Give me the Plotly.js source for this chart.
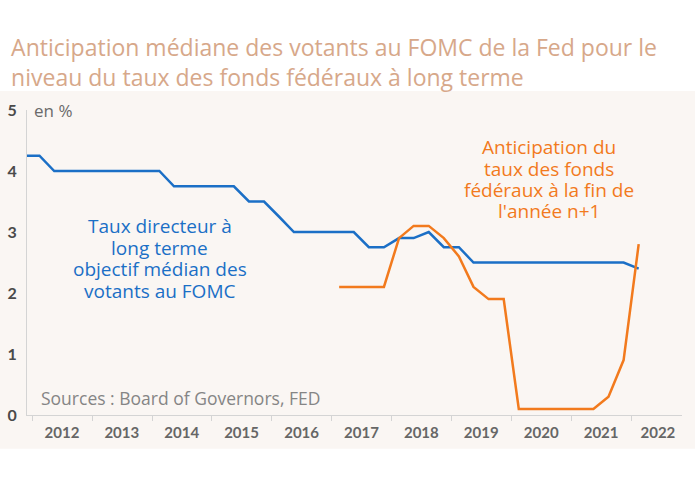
<!DOCTYPE html>
<html>
<head>
<meta charset="utf-8">
<script src="https://cdn.plot.ly/plotly-3.0.1.min.js"></script>
<style>
html,body{margin:0;padding:0;background:#ffffff;}
#chart{width:695px;height:483px;}
</style>
</head>
<body>
<div id="chart"></div>
<script>
// Quarterly observation dates (mid-quarter)
const quarters = [
  "2011-11-15",
  "2012-02-15","2012-05-15","2012-08-15","2012-11-15",
  "2013-02-15","2013-05-15","2013-08-15","2013-11-15",
  "2014-02-15","2014-05-15","2014-08-15","2014-11-15",
  "2015-02-15","2015-05-15","2015-08-15","2015-11-15",
  "2016-02-15","2016-05-15","2016-08-15","2016-11-15",
  "2017-02-15","2017-05-15","2017-08-15","2017-11-15",
  "2018-02-15","2018-05-15","2018-08-15","2018-11-15",
  "2019-02-15","2019-05-15","2019-08-15","2019-11-15",
  "2020-02-15","2020-05-15","2020-08-15","2020-11-15",
  "2021-02-15","2021-05-15","2021-08-15","2021-11-15",
  "2022-02-15"
];

// Taux directeur à long terme, objectif médian des votants au FOMC (en %)
const tauxLongTerme = [
  4.25,
  4.25, 4.0, 4.0, 4.0,
  4.0, 4.0, 4.0, 4.0,
  4.0, 3.75, 3.75, 3.75,
  3.75, 3.75, 3.5, 3.5,
  3.25, 3.0, 3.0, 3.0,
  3.0, 3.0, 2.75, 2.75,
  2.9, 2.9, 3.0, 2.75,
  2.75, 2.5, 2.5, 2.5,
  2.5, 2.5, 2.5, 2.5,
  2.5, 2.5, 2.5, 2.5,
  2.4
];

// Anticipation du taux des fonds fédéraux à la fin de l'année n+1 (en %)
const anticipationN1 = [
  null,
  null, null, null, null,
  null, null, null, null,
  null, null, null, null,
  null, null, null, null,
  null, null, null, null,
  2.1, 2.1, 2.1, 2.1,
  2.9, 3.1, 3.1, 2.9,
  2.6, 2.1, 1.9, 1.9,
  0.1, 0.1, 0.1, 0.1,
  0.1, 0.1, 0.3, 0.9,
  2.8
];

// Axis labels
const yearLabels = ["2012","2013","2014","2015","2016","2017","2018","2019","2020","2021","2022"];
const yearLabelPositions = ["2012-07-01","2013-07-01","2014-07-01","2015-07-01","2016-07-01","2017-07-01","2018-07-01","2019-07-01","2020-07-01","2021-07-01","2022-06-12"];
const yearBoundaries = ["2012-01-01","2013-01-01","2014-01-01","2015-01-01","2016-01-01","2017-01-01","2018-01-01","2019-01-01","2020-01-01","2021-01-01","2022-01-01"];
const yTicks = [0, 1, 2, 3, 4, 5];

// Text blocks
const blueLabelLines = ["Taux directeur à", "long terme", "objectif médian des", "votants au FOMC"];
const orangeLabelLines = ["Anticipation du", "taux des fonds", "fédéraux à la fin de", "l'année n+1"];

const BLUE = "#1b6fc6";
const ORANGE = "#f27a1d";
const FONT = "'Open Sans', Lato, sans-serif";
const LFONT = "Lato, 'Open Sans', sans-serif";

const traces = [
  {
    x: quarters, y: tauxLongTerme, type: "scatter", mode: "lines",
    name: "Taux directeur à long terme",
    line: {color: BLUE, width: 2.5},
    hoverinfo: "x+y"
  },
  {
    x: quarters, y: anticipationN1, type: "scatter", mode: "lines",
    name: "Anticipation n+1",
    line: {color: ORANGE, width: 2.5},
    connectgaps: false,
    hoverinfo: "x+y"
  }
];

const annotations = [
  {text: "en %", xref: "paper", yref: "paper", x: 0.008, y: 1.0, xanchor: "left", yanchor: "middle",
   showarrow: false, font: {family: FONT, size: 17, color: "#6a6a6a"}},
  {text: "Sources : Board of Governors, FED", xref: "paper", yref: "paper",
   x: 0.019, y: 0.056, xanchor: "left", yanchor: "middle",
   showarrow: false, font: {family: FONT, size: 17.5, color: "#858585"}}
];
const blueY = [0.619, 0.548, 0.478, 0.408];
blueLabelLines.forEach((t, i) => annotations.push({
  text: t, xref: "paper", yref: "paper", x: 0.203, y: blueY[i], xanchor: "center", yanchor: "middle",
  showarrow: false, borderpad: 0, font: {family: FONT, size: 19, color: BLUE}
}));
const orangeY = [0.878, 0.808, 0.738, 0.668];
orangeLabelLines.forEach((t, i) => annotations.push({
  text: t, xref: "paper", yref: "paper", x: 0.797, y: orangeY[i], xanchor: "center", yanchor: "middle",
  showarrow: false, borderpad: 0, font: {family: FONT, size: 19, color: ORANGE}
}));

const layout = {
  width: 695, height: 483,
  margin: {l: 27, r: 13, t: 110, b: 68, pad: 0},
  paper_bgcolor: "#ffffff",
  plot_bgcolor: "rgba(0,0,0,0)",
  showlegend: false,
  font: {family: FONT, color: "#666666"},
  title: {
    text: "Anticipation médiane des votants au FOMC de la Fed pour le<br>niveau du taux des fonds fédéraux à long terme",
    font: {family: FONT, size: 23, color: "#d7a88a"},
    xref: "container", yref: "container",
    x: 0.016, xanchor: "left",
    y: 0.884, yanchor: "top"
  },
  xaxis: {
    type: "date",
    range: ["2011-12-01", "2022-11-06"],
    showgrid: false, zeroline: false,
    showline: true, linecolor: "#d4d4d4", linewidth: 1,
    tickmode: "array", tickvals: yearLabelPositions, ticktext: yearLabels,
    ticks: "", ticklabelstandoff: 4,
    tickfont: {family: LFONT, size: 15, color: "#666666", weight: "bold"},
    minor: {tickmode: "array", tickvals: yearBoundaries, ticks: "outside", ticklen: 5, tickwidth: 1, tickcolor: "#d4d4d4", showgrid: false},
    fixedrange: true
  },
  yaxis: {
    range: [0, 5],
    showgrid: false, zeroline: false,
    showline: true, linecolor: "#d4d4d4", linewidth: 1,
    tickmode: "array", tickvals: yTicks,
    ticks: "", ticklabelstandoff: 6,
    tickfont: {family: LFONT, size: 16, color: "#4a4a4a", weight: "bold"},
    fixedrange: true
  },
  shapes: [
    {type: "rect", xref: "paper", yref: "paper", x0: -0.05, x1: 1.03, y0: -0.111, y1: 1.062,
     fillcolor: "#faf6f3", line: {width: 0}, layer: "below"}
  ],
  annotations: annotations
};

Plotly.newPlot("chart", traces, layout, {displayModeBar: false});
</script>
</body>
</html>
